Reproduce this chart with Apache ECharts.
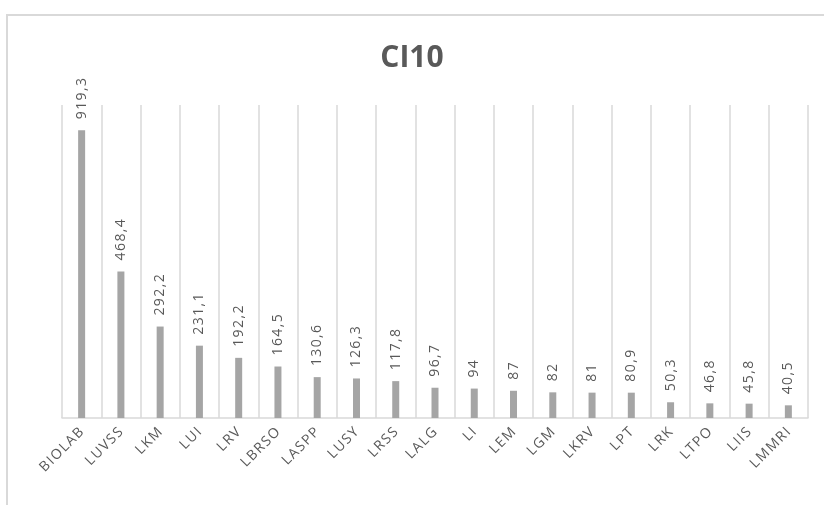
<!DOCTYPE html>
<html>
<head>
<meta charset="utf-8">
<title>CI10</title>
<script src="https://cdn.jsdelivr.net/npm/echarts@6/dist/echarts.min.js"></script>
<style>
  html, body { margin: 0; padding: 0; background: #fff; }
  #chart { width: 824px; height: 505px; }
</style>
</head>
<body>
<div id="chart"></div>
<script>
// categories + values
const categories = ['BIOLAB', 'LUVSS', 'LKM', 'LUI', 'LRV', 'LBRSO', 'LASPP', 'LUSY', 'LRSS', 'LALG',
  'LI', 'LEM', 'LGM', 'LKRV', 'LPT', 'LRK', 'LTPO', 'LIIS', 'LMMRI']
const values = [919.3, 468.4, 292.2, 231.1, 192.2, 164.5, 130.6, 126.3, 117.8, 96.7,
  94, 87, 82, 81, 80.9, 50.3, 46.8, 45.8, 40.5]

const textColor = '#595959'
const lineColor = '#d9d9d9'

// excel-ish letter spacing
const spaced = (s) => s.split('').join('\u200a')

const chart = echarts.init(document.getElementById('chart'))
const option = {
  animation: false,
  backgroundColor: '#fff',
  title: {
    text: 'CI10',
    left: 'center',
    top: 38,
    textStyle: {
      color: textColor,
      fontSize: 30,
      fontWeight: 'bold',
      fontFamily: 'Open Sans'
    }
  },
  // outer frame (cut off at right and bottom in the original)
  graphic: [{
    type: 'rect',
    shape: { x: 7, y: 15, width: 840, height: 520 },
    style: { fill: 'none', stroke: lineColor, lineWidth: 2 },
    silent: true
  }],
  grid: {
    left: 62,
    right: 16,
    top: 105,
    bottom: 87
  },
  xAxis: {
    type: 'category',
    data: categories,
    axisLine: { show: true, lineStyle: { color: lineColor, width: 1.5 } },
    axisTick: { show: false },
    splitLine: { show: true, lineStyle: { color: lineColor, width: 1.5 } },
    axisLabel: {
      interval: 0,
      rotate: 45,
      margin: 12,
      color: textColor,
      fontSize: 14,
      fontFamily: 'Open Sans',
      formatter: spaced
    }
  },
  yAxis: {
    type: 'value',
    min: 0,
    max: 1000,
    show: false,
    splitLine: { show: false }
  },
  series: [{
    type: 'bar',
    data: values,
    barWidth: 7,
    itemStyle: { color: '#a5a5a5' },
    label: {
      show: true,
      position: 'top',
      rotate: 90,
      align: 'left',
      verticalAlign: 'middle',
      distance: 11,
      color: textColor,
      fontSize: 14,
      fontFamily: 'Open Sans',
      formatter: function (p) {
        return spaced(String(p.value).replace('.', ','))
      }
    }
  }]
}
chart.setOption(option)
</script>
</body>
</html>
